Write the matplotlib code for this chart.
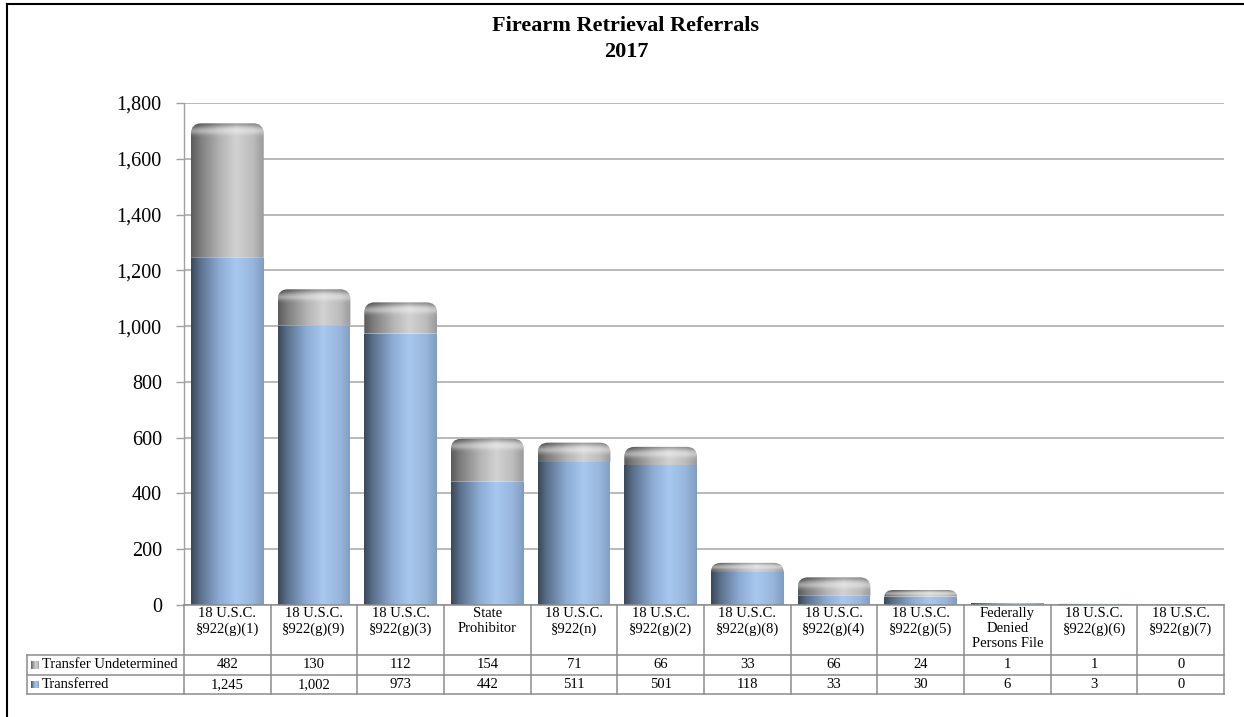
import numpy as np
import matplotlib
matplotlib.use("Agg")
import matplotlib.pyplot as plt
from matplotlib.colors import LinearSegmentedColormap
from matplotlib.path import Path
from matplotlib.patches import PathPatch
from matplotlib.lines import Line2D
from matplotlib.transforms import blended_transform_factory

# ---------- data ----------
categories = [
    "18 U.S.C.\n§922(g)(1)", "18 U.S.C.\n§922(g)(9)", "18 U.S.C.\n§922(g)(3)",
    "State\nProhibitor", "18 U.S.C.\n§922(n)", "18 U.S.C.\n§922(g)(2)",
    "18 U.S.C.\n§922(g)(8)", "18 U.S.C.\n§922(g)(4)", "18 U.S.C.\n§922(g)(5)",
    "Federally\nDenied\nPersons File", "18 U.S.C.\n§922(g)(6)", "18 U.S.C.\n§922(g)(7)",
]
transferred = [1245, 1002, 973, 442, 511, 501, 118, 33, 30, 6, 3, 0]
undetermined = [482, 130, 112, 154, 71, 66, 33, 66, 24, 1, 1, 0]
series_names = ["Transfer Undetermined", "Transferred"]
yticks = list(range(0, 1801, 200))

plt.rcParams["font.family"] = ["Liberation Serif", "DejaVu Serif"]

W, H = 1244, 717
fig = plt.figure(figsize=(W / 100, H / 100), dpi=100)
ax = fig.add_axes([184 / W, 1 - 605 / H, 1040 / W, 502 / H])

blue_cmap = LinearSegmentedColormap.from_list(
    "blue_cyl", [(0, "#3a4858"), (0.12, "#5a6f8a"), (0.4, "#8eadd6"),
                 (0.62, "#a9c8ef"), (0.85, "#98b6dc"), (1, "#7f9cc2")])
gray_cmap = LinearSegmentedColormap.from_list(
    "gray_cyl", [(0, "#5a5a5a"), (0.12, "#7c7c7c"), (0.4, "#b4b4b4"),
                 (0.62, "#d2d2d2"), (0.85, "#bcbcbc"), (1, "#9a9a9a")])
grad = np.linspace(0, 1, 256).reshape(1, -1)

ax.set_xlim(0, len(categories))
ax.set_ylim(0, 1800)
BAR_W = 0.84
RX = 0.12                        # corner radius in x data units
RY = RX * (1800 / 502) * (1040 / len(categories))  # same radius in y units


def seg_path(x0, x1, y0, y1, rounded):
    if not rounded:
        verts = [(x0, y0), (x1, y0), (x1, y1), (x0, y1), (x0, y0)]
        codes = [Path.MOVETO] + [Path.LINETO] * 3 + [Path.CLOSEPOLY]
        return Path(verts, codes)
    ry = min(RY, (y1 - y0))
    rx = RX
    verts = [(x0, y0), (x1, y0), (x1, y1 - ry), (x1, y1), (x1 - rx, y1),
             (x0 + rx, y1), (x0, y1), (x0, y1 - ry), (x0, y0)]
    codes = [Path.MOVETO, Path.LINETO, Path.LINETO, Path.CURVE3, Path.CURVE3,
             Path.LINETO, Path.CURVE3, Path.CURVE3, Path.CLOSEPOLY]
    return Path(verts, codes)


def draw_segment(x0, x1, y0, y1, cmap, rounded):
    if y1 <= y0:
        return
    patch = PathPatch(seg_path(x0, x1, y0, y1, rounded), facecolor="none",
                      edgecolor="none")
    ax.add_patch(patch)
    im = ax.imshow(grad, cmap=cmap, aspect="auto", extent=(x0, x1, y0, y1),
                   interpolation="bilinear", zorder=2)
    im.set_clip_path(patch)
    if rounded:
        # bevel on the cylinder top: dark rim, then a soft light band
        cap = min(RY * 1.5, y1 - y0)
        t = np.linspace(0, 1, 64)[:, None] * np.ones((1, 2))  # 0 at top
        shade = np.zeros((64, 2, 4))
        light = 0.4 * np.exp(-((t - 0.5) / 0.22) ** 2)
        dark = np.clip(1 - t / 0.3, 0, 1) * 0.3
        shade[..., :3] = (light / (light + dark + 1e-9))[..., None]
        shade[..., 3] = np.clip(light + dark, 0, 1)
        im2 = ax.imshow(shade, aspect="auto", extent=(x0, x1, y1 - cap, y1),
                        interpolation="bilinear", zorder=3)
        im2.set_clip_path(patch)


for i, (t, u) in enumerate(zip(transferred, undetermined)):
    x0, x1 = i + 0.5 - BAR_W / 2, i + 0.5 + BAR_W / 2
    draw_segment(x0, x1, 0, t, blue_cmap, rounded=(u == 0))
    draw_segment(x0, x1, t, t + u, gray_cmap, rounded=True)

ax.set_xlim(0, len(categories))
ax.set_ylim(0, 1800)
ax.set_yticks(yticks)
ax.set_yticklabels([f"{v:,}" for v in yticks], fontsize=14.5)
ax.tick_params(axis="y", direction="out", length=6, width=1, color="#a0a0a0",
               pad=10)
ax.set_xticks([])
ax.grid(axis="y", color="#a6a6a6", linewidth=1.1, zorder=0)
ax.set_axisbelow(True)
for side in ["top", "right", "bottom"]:
    ax.spines[side].set_visible(False)
ax.spines["left"].set_color("#a0a0a0")
ax.spines["left"].set_linewidth(1)

# ---------- data table ----------
bt = blended_transform_factory(ax.transData, fig.transFigure)
ft = fig.transFigure


def fy(py):
    return 1 - py / H


line_kw = dict(color="#8c8c8c", linewidth=1.1)
n = len(categories)
y_head, y_r1, y_r2, y_end = 605, 655, 675, 694
fig.add_artist(Line2D([0, n], [fy(y_head)] * 2, transform=bt, **line_kw))
for yy in (y_r1, y_r2, y_end):
    fig.add_artist(Line2D([27 / W, 1224 / W], [fy(yy)] * 2, transform=ft, **line_kw))
for k in range(n + 1):
    fig.add_artist(Line2D([k, k], [fy(y_head), fy(y_end)], transform=bt, **line_kw))
fig.add_artist(Line2D([27 / W] * 2, [fy(y_r1), fy(y_end)], transform=ft, **line_kw))

TBL_FS = 10.5
for i, cat in enumerate(categories):
    fig.text(i + 0.5, fy(607), cat, transform=bt, ha="center", va="top",
             fontsize=TBL_FS, linespacing=1.2)
    fig.text(i + 0.5, fy((y_r1 + y_r2) / 2), f"{undetermined[i]:,}", transform=bt,
             ha="center", va="center", fontsize=TBL_FS)
    fig.text(i + 0.5, fy((y_r2 + y_end) / 2), f"{transferred[i]:,}", transform=bt,
             ha="center", va="center", fontsize=TBL_FS)

# legend keys in the row headers
for row, (name, cmap) in enumerate(zip(series_names, [gray_cmap, blue_cmap])):
    yc = (y_r1 + y_r2) / 2 if row == 0 else (y_r2 + y_end) / 2
    kax = fig.add_axes([31 / W, fy(yc + 4), 8 / W, 8 / H])
    kax.imshow(grad, cmap=cmap, aspect="auto", interpolation="bilinear")
    kax.axis("off")
    fig.text(42 / W, fy(yc), name, ha="left", va="center", fontsize=TBL_FS)

# ---------- title and frame ----------
fig.text(626 / W, fy(26), "Firearm Retrieval Referrals", ha="center",
         va="center", fontsize=16, fontweight="bold")
fig.text(626 / W, fy(52), "2017", ha="center", va="center", fontsize=16,
         fontweight="bold")
fig.add_artist(Line2D([7 / W, 1], [fy(4)] * 2, transform=ft, color="black", linewidth=1.5))
fig.add_artist(Line2D([7 / W] * 2, [fy(4), 0], transform=ft, color="black", linewidth=1.5))

fig.savefig("out.png", dpi=100)
